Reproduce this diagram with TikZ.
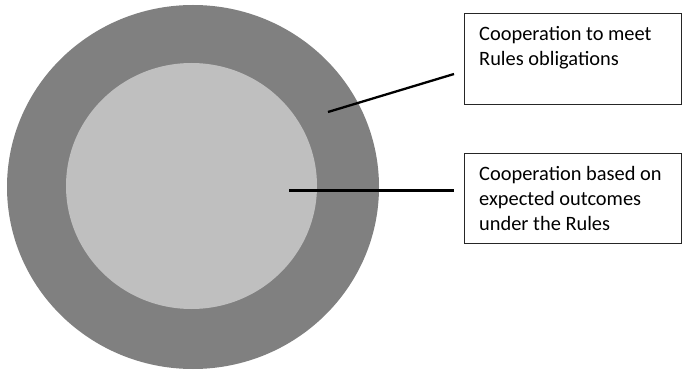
\documentclass[tikz,border=0pt]{standalone}
\usepackage{fontspec}
\setmainfont{Carlito}
\begin{document}
\begin{tikzpicture}[x=1pt,y=-1pt,
  box/.style={draw=black!85,line width=1pt,rectangle,anchor=north west,inner sep=0pt},
  lbl/.style={anchor=base west,inner sep=0pt,font=\fontsize{20.4}{25}\selectfont,align=left},
  conn/.style={draw=black,line width=2.3pt}]
\useasboundingbox (0,0) rectangle (682,371);
\fill[fill={rgb,255:red,128;green,128;blue,128}] (193,187) ellipse [x radius=186,y radius=182];
\fill[fill={rgb,255:red,191;green,191;blue,191}] (191.5,186) ellipse [x radius=125.5,y radius=123];
\node[box,minimum width=217pt,minimum height=91pt] (b1) at (464,13) {};
\node[box,minimum width=217pt,minimum height=90pt] (b2) at (464,153) {};
\node[lbl] (t1) at (479,66) {Cooperation to meet\\Rules obligations};
\node[lbl] (t2) at (479,231) {Cooperation based on\\expected outcomes\\under the Rules};
\coordinate (a1) at (328,112);
\coordinate (e1) at (454,74);
\coordinate (a2) at (289,190.5);
\coordinate (e2) at (454,190.5);
\draw[conn] (a1) -- (e1);
\draw[conn] (a2) -- (e2);
\end{tikzpicture}
\end{document}
